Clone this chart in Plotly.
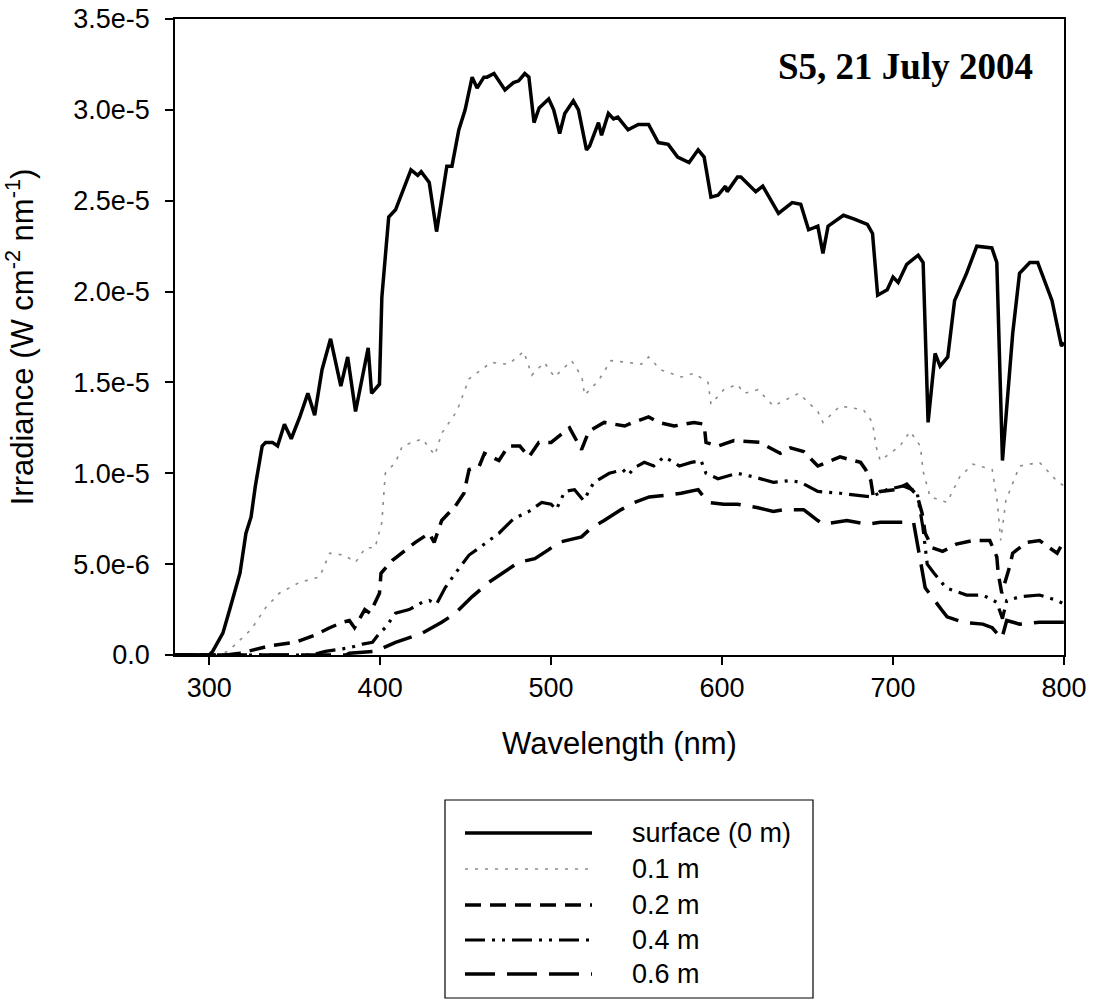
import plotly.graph_objects as go

# ---------------- data (irradiance in units of 1e-5 W cm-2 nm-1) ----------------
UNIT = 1e-5

surface_wl = [280, 290, 300, 302, 308, 312, 318, 321.5, 324.5, 327, 331, 333, 337, 340, 344, 348,
              353, 357.7, 361.7, 366, 371, 377, 381, 385.6, 393, 395, 399.6, 401, 405, 409, 418,
              422, 424, 428.7, 433, 439, 442, 446, 449.7, 453.8, 456.7, 460.7, 462.5, 466.6, 473,
              478, 481, 484.6, 487, 490, 493, 498.6, 501.5, 505, 508, 513, 516, 520.7, 522.5,
              527.7, 529.5, 533.5, 536.5, 539, 545, 551, 557, 562.7, 568.5, 574, 580.7, 586,
              589.5, 593.5, 597.6, 602, 603, 609, 611, 619.7, 623.8, 633, 641, 646, 650.6, 656,
              659, 662, 671, 677, 685, 688, 691, 696.6, 700, 703, 708, 714.7, 717.6, 720.5,
              724.6, 727.5, 732, 736, 743, 749, 757.8, 760.7, 764, 770, 774, 780, 784.6, 793,
              798.5, 800]
surface_val = [0, 0, 0, 0.02, 0.12, 0.25, 0.45, 0.67, 0.76, 0.93, 1.15, 1.17, 1.17, 1.15, 1.27, 1.19,
               1.31, 1.44, 1.32, 1.57, 1.74, 1.48, 1.64, 1.34, 1.69, 1.44, 1.49, 1.97, 2.41, 2.45, 2.67,
               2.64, 2.66, 2.60, 2.33, 2.69, 2.69, 2.89, 3.00, 3.18, 3.12, 3.18, 3.18, 3.20, 3.11,
               3.15, 3.16, 3.20, 3.18, 2.93, 3.01, 3.06, 3.00, 2.87, 2.98, 3.05, 3.00, 2.78, 2.80,
               2.93, 2.86, 2.98, 2.95, 2.96, 2.89, 2.92, 2.92, 2.82, 2.81, 2.74, 2.71, 2.78,
               2.74, 2.52, 2.53, 2.58, 2.55, 2.63, 2.63, 2.55, 2.58, 2.43, 2.49, 2.48, 2.34, 2.36,
               2.21, 2.36, 2.42, 2.40, 2.37, 2.32, 1.98, 2.01, 2.08, 2.05, 2.15, 2.20, 2.16, 1.28,
               1.66, 1.59, 1.64, 1.95, 2.10, 2.25, 2.24, 2.16, 1.07, 1.77, 2.10, 2.16, 2.16, 1.95,
               1.70, 1.72]

m01_wl = [280, 305, 311, 324.5, 333, 341, 353, 364.6, 370.5, 379, 385.6, 391.4, 397, 401, 403, 409,
          413, 424.6, 432, 436, 444, 446, 452, 459.6, 465, 475, 484, 488.7, 496, 502, 512, 518,
          519.6, 527.7, 535, 545, 552.8, 557, 564, 576, 583.6, 591.8, 593.5, 601, 609, 612.7, 617,
          621, 630, 644.8, 656, 659, 669, 682.6, 688, 690, 692.5, 704, 710, 716, 717.6, 721.7,
          731.6, 739, 746.7, 758, 761, 763, 766, 774, 785.7, 795.6, 800]
m01_val = [0, 0, 0.02, 0.14, 0.26, 0.34, 0.40, 0.43, 0.56, 0.55, 0.51, 0.59, 0.59, 0.73, 1.00, 1.06,
           1.15, 1.19, 1.10, 1.22, 1.33, 1.37, 1.52, 1.57, 1.61, 1.60, 1.67, 1.54, 1.61, 1.53, 1.62, 1.53,
           1.43, 1.51, 1.62, 1.61, 1.60, 1.64, 1.57, 1.53, 1.55, 1.50, 1.38, 1.46, 1.49, 1.44, 1.45,
           1.46, 1.37, 1.44, 1.34, 1.28, 1.37, 1.35, 1.28, 1.15, 1.07, 1.15, 1.23, 1.15, 1.01, 0.87,
           0.84, 0.98, 1.05, 1.02, 0.84, 0.63, 0.85, 1.04, 1.06, 0.96, 0.93]

m02_wl = [280, 310, 318, 335.5, 350.6, 362, 370.5, 378, 382, 385, 391, 394, 399.6, 400.5, 407, 414.7,
          420.6, 428.7, 431.6, 436, 444, 449, 452, 458, 461, 469.5, 475, 481.7, 487, 492.8, 500,
          510.8, 517.8, 522, 531, 543, 548, 557, 563, 572, 578, 583.6, 589.5, 590.6, 597.6, 607,
          622, 634, 640, 647.7, 656, 669, 681, 684, 687, 688.5, 692.5, 702, 708, 714, 717, 718.8,
          723, 729, 737, 746.7, 756.6, 760.7, 761.5, 763.6, 768, 770, 778, 785.7, 791.5, 796, 800]
m02_val = [0, 0, 0.01, 0.05, 0.07, 0.11, 0.15, 0.18, 0.19, 0.15, 0.25, 0.23, 0.34, 0.45, 0.52, 0.58,
           0.62, 0.67, 0.62, 0.74, 0.82, 0.89, 1.02, 1.04, 1.11, 1.07, 1.15, 1.15, 1.09, 1.17, 1.17,
           1.25, 1.13, 1.23, 1.28, 1.26, 1.28, 1.31, 1.28, 1.26, 1.27, 1.28, 1.27, 1.17, 1.15, 1.18,
           1.17, 1.11, 1.14, 1.12, 1.04, 1.09, 1.06, 1.02, 0.96, 0.87, 0.90, 0.91, 0.94, 0.88, 0.78, 0.67,
           0.59, 0.57, 0.61, 0.63, 0.63, 0.54, 0.45, 0.34, 0.48, 0.56, 0.62, 0.63, 0.59, 0.56, 0.63]

m04_wl = [280, 360, 368, 382, 389.7, 395.5, 399.6, 403, 409, 417, 424.6, 428.7, 433, 438, 444, 452,
          458, 469.5, 478, 487, 494.5, 500, 503, 508, 513.7, 519, 525, 534, 542, 545, 548.7, 554.5,
          560, 566, 572, 575, 582, 587.7, 590.6, 597.6, 609, 618.6, 630, 640, 646, 656, 669, 677,
          687, 696.6, 706, 714, 717.5, 720, 724, 731, 743, 752.5, 760.7, 764, 766.5, 774, 785.7,
          796, 800]
m04_val = [0, 0, 0.02, 0.04, 0.06, 0.07, 0.12, 0.15, 0.23, 0.25, 0.29, 0.30, 0.28, 0.37, 0.45, 0.55,
           0.59, 0.67, 0.75, 0.79, 0.84, 0.83, 0.80, 0.90, 0.91, 0.85, 0.95, 1.00, 1.02, 0.99, 1.03, 1.06,
           1.04, 1.09, 1.06, 1.04, 1.06, 1.07, 1.00, 0.97, 1.00, 0.98, 0.95, 0.96, 0.95, 0.90, 0.89, 0.88,
           0.87, 0.91, 0.93, 0.90, 0.70, 0.50, 0.45, 0.37, 0.33, 0.33, 0.29, 0.20, 0.30, 0.32, 0.33,
           0.30, 0.28]

m06_wl = [280, 380, 382, 397, 409, 424.6, 436, 444, 453.7, 463.6, 481, 490.5, 498.6, 504.4, 517.8,
          523.6, 531, 541, 548.7, 557.4, 568.5, 576, 586, 591.8, 601, 609, 621, 630, 636, 647.7, 656,
          659, 673, 685, 692.5, 702, 712, 716, 718.8, 727.5, 731.6, 741, 752.5, 758, 763.6, 766.5,
          774, 785.7, 791.5, 800]
m06_val = [0, 0, 0.01, 0.02, 0.07, 0.12, 0.18, 0.23, 0.32, 0.40, 0.51, 0.53, 0.58, 0.62, 0.65,
           0.70, 0.74, 0.80, 0.84, 0.87, 0.88, 0.89, 0.91, 0.84, 0.83, 0.83, 0.81, 0.79, 0.80, 0.80, 0.74,
           0.72, 0.74, 0.72, 0.73, 0.73, 0.73, 0.52, 0.37, 0.26, 0.21, 0.18, 0.17, 0.15, 0.09, 0.19,
           0.17, 0.18, 0.18, 0.18]

series_names = ["surface (0 m)", "0.1 m", "0.2 m", "0.4 m", "0.6 m"]
series_wl = [surface_wl, m01_wl, m02_wl, m04_wl, m06_wl]
series_val = [surface_val, m01_val, m02_val, m04_val, m06_val]

x_ticks = [300, 400, 500, 600, 700, 800]
y_ticks = [0, 5e-6, 1e-5, 1.5e-5, 2e-5, 2.5e-5, 3e-5, 3.5e-5]
y_ticktext = ["0.0", "5.0e-6", "1.0e-5", "1.5e-5", "2.0e-5", "2.5e-5", "3.0e-5", "3.5e-5"]

# ---------------- styles ----------------
styles = [
    dict(color="black", width=3.5, dash="solid"),
    dict(color="#8c8c8c", width=1.6, dash="3px,7px"),
    dict(color="black", width=3.5, dash="16px,9px"),
    dict(color="black", width=3.2, dash="20px,7px,3px,7px,3px,7px"),
    dict(color="black", width=3.5, dash="30px,12px"),
]

W, H = 1094, 1005
L, R, T, B = 175, 1064, 19, 655  # plot area in pixels


def px_x(p):
    return (p - L) / (R - L)


def px_y(p):
    return (B - p) / (B - T)


FONT = "Liberation Sans, Arial, sans-serif"

fig = go.Figure()
for name, wl, val, st in zip(series_names, series_wl, series_val, styles):
    fig.add_trace(go.Scatter(
        x=wl, y=[v * UNIT for v in val], mode="lines", name=name,
        line=dict(color=st["color"], width=st["width"], dash=st["dash"]),
        showlegend=False,
    ))

# manual legend (long sample lines like the original)
shapes = [dict(type="rect", xref="paper", yref="paper",
               x0=px_x(445), x1=px_x(813), y0=px_y(800), y1=px_y(998),
               line=dict(color="black", width=1.2), fillcolor="white", layer="below")]
annotations = []
rows = [833, 869, 905, 940, 974]
for name, st, ry in zip(series_names, styles, rows):
    shapes.append(dict(type="line", xref="paper", yref="paper",
                       x0=px_x(465), x1=px_x(592), y0=px_y(ry), y1=px_y(ry),
                       line=dict(color=st["color"], width=st["width"], dash=st["dash"])))
    annotations.append(dict(xref="paper", yref="paper", x=px_x(630), y=px_y(ry),
                            xanchor="left", yanchor="middle", text=name, showarrow=False,
                            font=dict(family=FONT, size=27, color="black")))

annotations.append(dict(xref="paper", yref="paper", x=px_x(905), y=px_y(66),
                        xanchor="center", yanchor="middle", showarrow=False,
                        text="<b>S5, 21 July 2004</b>",
                        font=dict(family="Liberation Serif, Times New Roman, serif", size=37,
                                  color="black")))

fig.update_layout(
    width=W, height=H,
    margin=dict(l=L, r=W - R, t=T, b=H - B, autoexpand=False),
    paper_bgcolor="white", plot_bgcolor="white",
    font=dict(family=FONT, color="black"),
    shapes=shapes, annotations=annotations,
    showlegend=False,
)
fig.update_xaxes(
    range=[280, 800], tickvals=x_ticks, ticks="outside", ticklen=8, tickwidth=1.5,
    tickcolor="black", showline=True, linecolor="black", linewidth=1.5, mirror=True,
    showgrid=False, zeroline=False, tickfont=dict(size=27, family=FONT),
    title=dict(text="Wavelength (nm)", font=dict(size=31, family=FONT), standoff=30),
    automargin=False,
)
fig.update_yaxes(
    range=[0, 3.5e-5], tickvals=y_ticks, ticktext=y_ticktext, ticks="outside", ticklen=8,
    tickwidth=1.5, tickcolor="black", showline=True, linecolor="black", linewidth=1.5,
    mirror=True, showgrid=False, zeroline=False, tickfont=dict(size=27, family=FONT),
    ticklabelstandoff=10,
    title=dict(text="Irradiance (W cm<sup>-2</sup> nm<sup>-1</sup>)",
               font=dict(size=31, family=FONT), standoff=30),
    automargin=False,
)

fig.write_html("out.html")
